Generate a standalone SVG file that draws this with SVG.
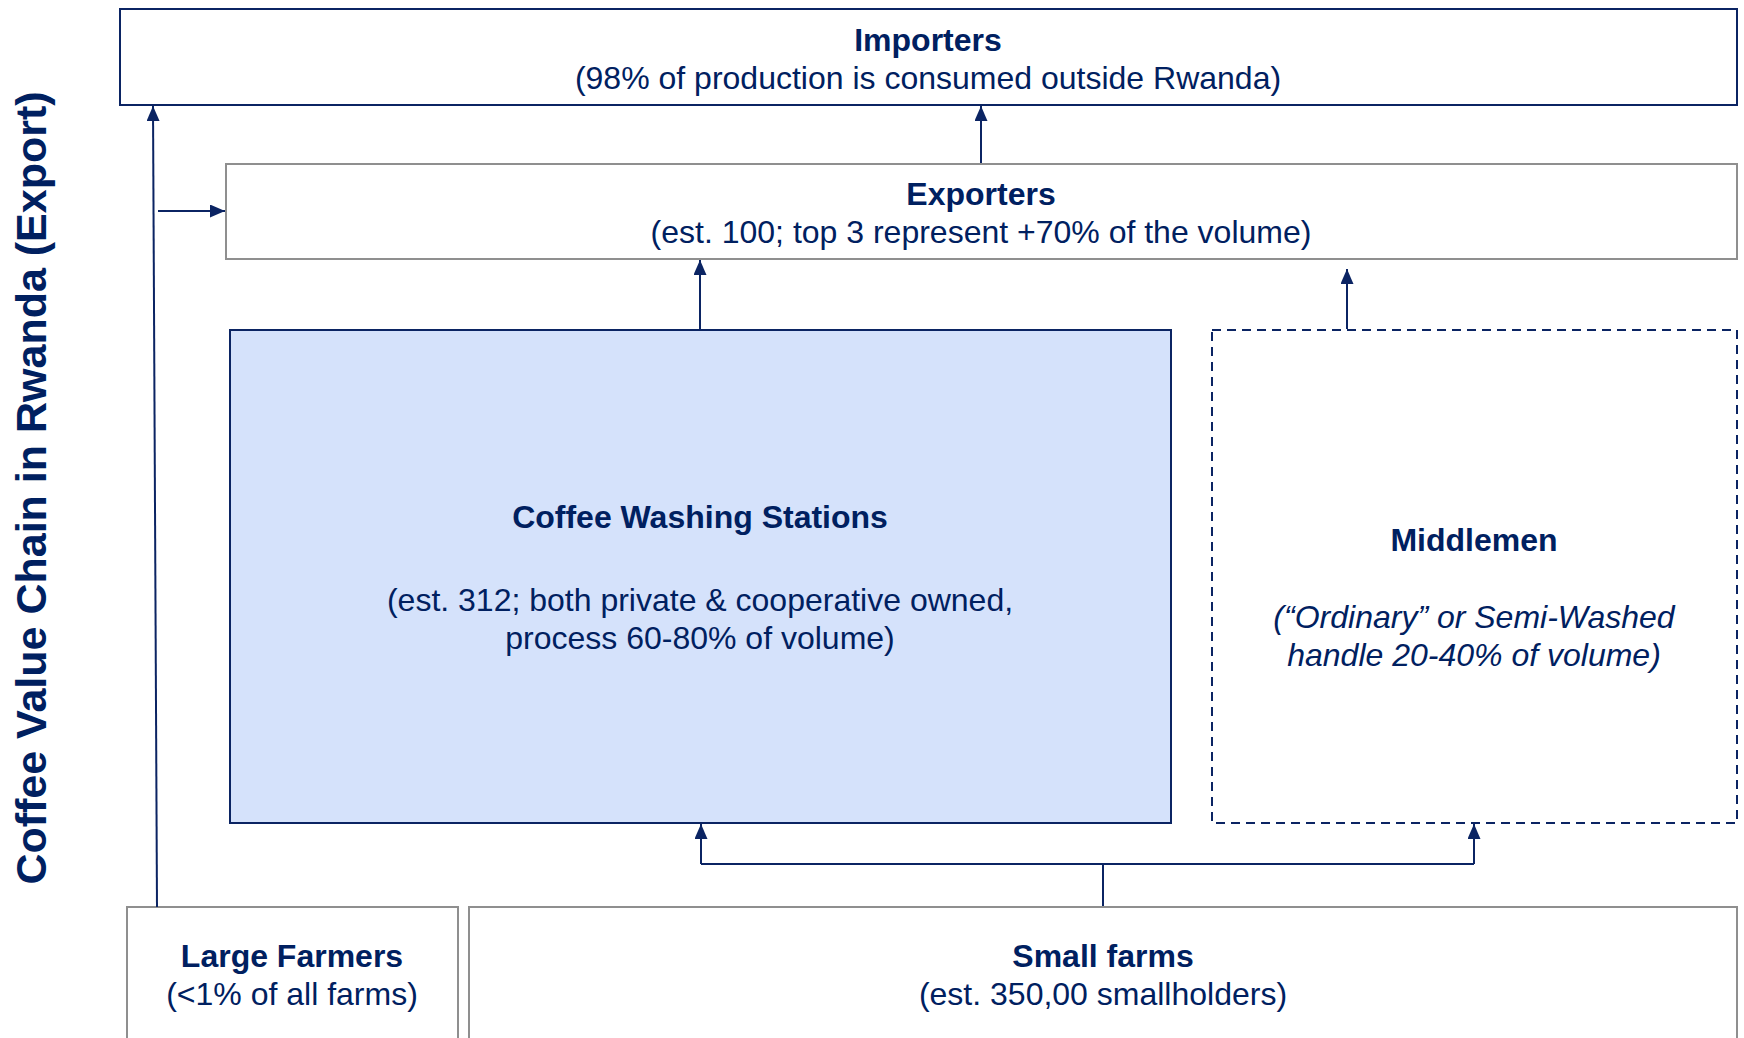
<svg xmlns="http://www.w3.org/2000/svg" width="1744" height="1038" viewBox="0 0 1744 1038">
  <defs>
    <style>
      text { font-family: "Liberation Sans", Arial, sans-serif; fill: #002060; font-size: 32px; text-anchor: middle; }
      .b { font-weight: bold; }
      .i { font-style: italic; }
      .title { font-size: 43px; font-weight: bold; }
      .navy { fill: #ffffff; stroke: #0b2463; stroke-width: 2; }
      .gray { fill: #ffffff; stroke: #8f8f8f; stroke-width: 2; }
      .cws { fill: #d5e2fb; stroke: #0b2463; stroke-width: 2; }
      .dash { fill: #ffffff; stroke: #0b2463; stroke-width: 2; stroke-dasharray: 9 6; }
      .conn { fill: none; stroke: #0b2463; stroke-width: 2; }
    </style>
    <marker id="arr" viewBox="0 0 15 13" refX="15" refY="6.5" markerWidth="15" markerHeight="13" markerUnits="userSpaceOnUse" orient="auto">
      <path d="M0,0 L15,6.5 L0,13 Z" fill="#0b2463"/>
    </marker>
  </defs>

  <rect width="1744" height="1038" fill="#ffffff"/>

  <text class="title" transform="translate(46,488) rotate(-90)">Coffee Value Chain in Rwanda (Export)</text>

  <g id="importers">
    <rect class="navy" x="120" y="9" width="1617" height="96"/>
    <text class="b" x="928" y="51">Importers</text>
    <text x="928" y="89">(98% of production is consumed outside Rwanda)</text>
  </g>

  <g id="exporters">
    <rect class="gray" x="226" y="164" width="1511" height="95"/>
    <text class="b" x="981" y="205">Exporters</text>
    <text x="981" y="243">(est. 100; top 3 represent +70% of the volume)</text>
  </g>

  <g id="cws">
    <rect class="cws" x="230" y="330" width="941" height="493"/>
    <text class="b" x="700" y="528">Coffee Washing Stations</text>
    <text x="700" y="611">(est. 312; both private &amp; cooperative owned,</text>
    <text x="700" y="649">process 60-80% of volume)</text>
  </g>

  <g id="middlemen">
    <rect class="dash" x="1212" y="330" width="525" height="493"/>
    <text class="b" x="1474" y="551">Middlemen</text>
    <text class="i" x="1474" y="628">(“Ordinary” or Semi-Washed</text>
    <text class="i" x="1474" y="666">handle 20-40% of volume)</text>
  </g>

  <g id="large-farmers">
    <rect class="gray" x="127" y="907" width="331" height="140"/>
    <text class="b" x="292" y="967">Large Farmers</text>
    <text x="292" y="1005">(&lt;1% of all farms)</text>
  </g>

  <g id="small-farms">
    <rect class="gray" x="469" y="907" width="1268" height="140"/>
    <text class="b" x="1103" y="967">Small farms</text>
    <text x="1103" y="1005">(est. 350,00 smallholders)</text>
  </g>

  <g id="connectors">
    <path class="conn" d="M157,907 L153,106" marker-end="url(#arr)"/>
    <path class="conn" d="M158,211 L225,211" marker-end="url(#arr)"/>
    <path class="conn" d="M981,163 L981,106" marker-end="url(#arr)"/>
    <path class="conn" d="M700,329 L700,260" marker-end="url(#arr)"/>
    <path class="conn" d="M1347,329 L1347,269" marker-end="url(#arr)"/>
    <path class="conn" d="M1103,906 L1103,864"/>
    <path class="conn" d="M701,864 L1474,864"/>
    <path class="conn" d="M701,864 L701,824" marker-end="url(#arr)"/>
    <path class="conn" d="M1474,864 L1474,824" marker-end="url(#arr)"/>
  </g>
</svg>
